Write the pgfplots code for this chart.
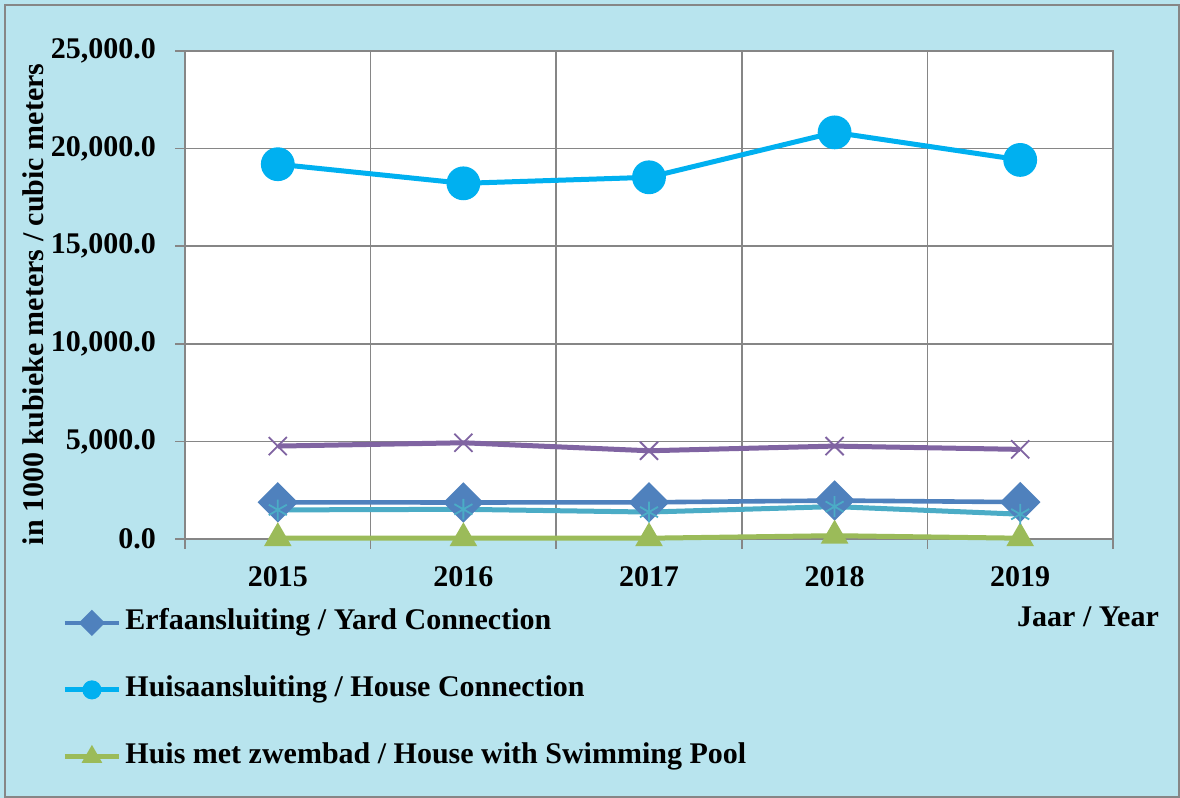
\documentclass[border=0pt]{standalone}
\usepackage{fontspec}
\setmainfont{Liberation Serif}
\usepackage{pgfplots}
\pgfplotsset{compat=1.18}
\definecolor{bgblue}{RGB}{184,228,238}
\definecolor{axgray}{RGB}{134,134,134}
\definecolor{cyard}{RGB}{79,129,189}
\definecolor{chouse}{RGB}{0,176,240}
\definecolor{cpool}{RGB}{155,187,89}
\definecolor{cpurple}{RGB}{128,100,162}
\definecolor{cteal}{RGB}{75,172,198}
\begin{document}
\begin{tikzpicture}
\fill[bgblue] (0,0) rectangle (590pt,399pt);
\draw[axgray, line width=1pt] (2.5pt,0.5pt) rectangle (589.5pt,396.5pt);
\begin{axis}[
  at={(92.5pt,129.5pt)}, anchor=south west,
  scale only axis, width=464pt, height=244pt,
  xmin=0.5, xmax=5.5, ymin=0, ymax=25000,
  xtick={1,2,3,4,5}, xticklabels={2015,2016,2017,2018,2019},
  minor xtick={0.5,1.5,2.5,3.5,4.5,5.5},
  ytick={0,5000,10000,15000,20000,25000},
  xminorgrids=true, ymajorgrids=true,
  tick align=outside, major tick length=5pt, minor tick length=5pt,
  xtick pos=bottom, ytick pos=left,
  major x tick style={draw=none},
  axis line style={draw=axgray, line width=0.8pt},
  grid style={axgray, line width=0.8pt},
  minor grid style={axgray, line width=0.8pt},
  tick style={axgray, line width=0.8pt},
  axis background/.style={fill=white},
  scaled y ticks=false,
  yticklabel style={/pgf/number format/fixed, /pgf/number format/fixed zerofill, /pgf/number format/precision=1, /pgf/number format/1000 sep={,}, /pgf/number format/assume math mode=true, font=\fontsize{15}{17}\selectfont\bfseries, xshift=-6pt},
  xticklabel style={font=\fontsize{15}{17}\selectfont\bfseries, /pgf/number format/assume math mode=true, yshift=-5pt},
  clip=false,
  legend style={at={(-0.1325,-0.1424)}, anchor=north west, draw=none, fill=none,
    font=\fontsize{15}{17}\selectfont\bfseries, row sep=19.5pt, column sep=2pt, inner sep=0pt,
    nodes={inner sep=0pt, text height=10.5pt, text depth=3.5pt}},
  legend cell align=left,
  legend image code/.code={\draw[mark repeat=2, mark phase=2, #1, mark size=3.5pt] plot coordinates {(0pt,0pt) (13.5pt,0pt) (27pt,0pt)};},
]
\addplot[color=cyard, line width=2.3pt, mark=square*, mark size=6pt, mark options={rotate=45, solid}]
  coordinates {(1,1880) (2,1870) (3,1880) (4,1970) (5,1890)};
\addlegendentry{Erfaansluiting / Yard Connection}
\addplot[color=chouse, line width=2.5pt, mark=*, mark size=7.2pt, mark options={solid}]
  coordinates {(1,19200) (2,18220) (3,18530) (4,20830) (5,19420)};
\addlegendentry{Huisaansluiting / House Connection}
\addplot[color=cpool, line width=2.5pt, mark=triangle*, mark size=5.5pt, mark options={solid}]
  coordinates {(1,40) (2,40) (3,40) (4,170) (5,40)};
\addlegendentry{Huis met zwembad / House with Swimming Pool}
\addplot[color=cpurple, line width=2.5pt, mark=x, mark size=6.4pt, mark options={solid, line width=0.9pt}, forget plot]
  coordinates {(1,4760) (2,4930) (3,4520) (4,4760) (5,4590)};
\addplot[color=cteal, line width=2.5pt, mark=asterisk, mark size=5.2pt, mark options={solid, line width=0.9pt}, forget plot]
  coordinates {(1,1490) (2,1520) (3,1380) (4,1660) (5,1270)};
\end{axis}
\node[rotate=90, font=\fontsize{15}{17}\selectfont\bfseries] at (16.5pt,246.75pt) {in 1000 kubieke meters / cubic meters};
\node[font=\fontsize{15}{17}\selectfont\bfseries] at (544pt,90.5pt) {Jaar / Year};
\end{tikzpicture}
\end{document}
